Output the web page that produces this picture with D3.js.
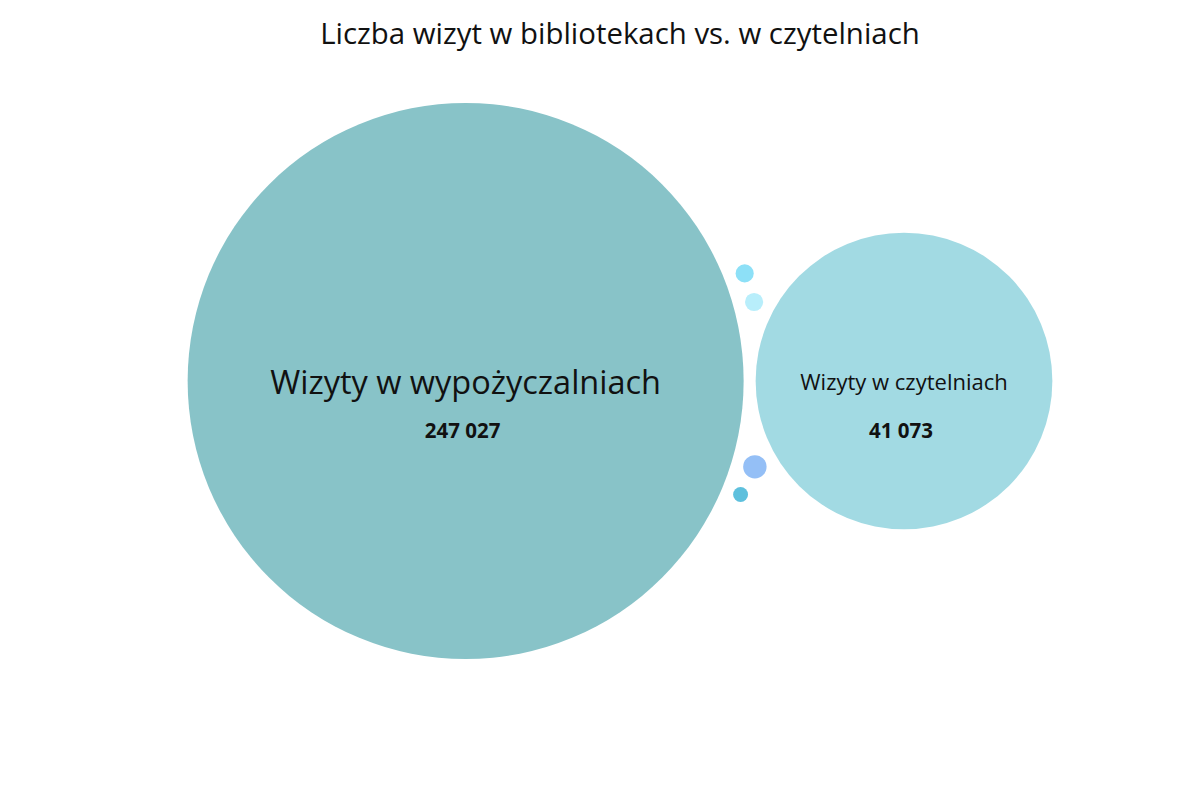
<!DOCTYPE html>
<html>
<head>
<meta charset="utf-8">
<script src="https://cdn.jsdelivr.net/npm/d3@7/dist/d3.min.js"></script>
<style>
  html, body { margin: 0; padding: 0; background: #ffffff; }
  svg { display: block; font-family: "Open Sans", "Noto Sans", sans-serif; }
</style>
</head>
<body>
<svg id="chart" width="1200" height="800"></svg>
<script>
// ---- data ----
const titleText = "Liczba wizyt w bibliotekach vs. w czytelniach";
const names  = ["Wizyty w wypożyczalniach", "Wizyty w czytelniach", "", "", "", ""];
const values = [247027, 41073, 14, 14, 29, 8];
const colors = ["#88c3c8", "#a2dae3", "#8de0f7", "#b8eefb", "#94bff6", "#5ec0dd"];
// packing: each small bubble is placed touching two earlier bubbles (index pair, side)
const anchorA = [null, null, 0, 0, 0, 0];
const anchorB = [null, null, 3, 1, 1, 4];
const side    = [null, null, -1, -1, 1, 1];
// ---------------

const W = 1200, H = 800;
const svg = d3.select("#chart");
const fmt = d3.formatLocale({ decimal: ",", thousands: "\u00a0", grouping: [3], currency: ["", " zł"] }).format(",d");

svg.append("text")
  .attr("x", 620).attr("y", 44)
  .attr("text-anchor", "middle")
  .attr("font-size", 29.4)
  .attr("fill", "#111")
  .text(titleText);

const r = d3.scalePow().exponent(0.35).domain([0, d3.max(values)]).range([0, 278]);
const pad = 12;

const nodes = values.map((v, i) => ({ i, name: names[i], value: v, color: colors[i], r: r(v) }));

// place first two side by side with padding
nodes[0].x = 0; nodes[0].y = 0;
nodes[1].x = nodes[0].r + pad + nodes[1].r; nodes[1].y = 0;

function placeTangent(a, b, c, s) {
  const da = a.r + c.r + pad, db = b.r + c.r + pad;
  const dx = b.x - a.x, dy = b.y - a.y;
  const d = Math.hypot(dx, dy);
  const t = (da * da - db * db + d * d) / (2 * d);
  const h = Math.sqrt(Math.max(0, da * da - t * t));
  const ux = dx / d, uy = dy / d;
  c.x = a.x + ux * t - uy * h * s * Math.sign(ux || 1);
  c.y = a.y + uy * t + ux * h * s * Math.sign(ux || 1);
}
// order: 3 and 4 first (touch both large), then 2 and 5
[3, 4, 2, 5].forEach(k => {
  placeTangent(nodes[anchorA[k]], nodes[anchorB[k]], nodes[k], side[k]);
});

// centre the pack horizontally on its extent, vertically at 381
const minX = d3.min(nodes, d => d.x - d.r), maxX = d3.max(nodes, d => d.x + d.r);
const offX = 620 - (minX + maxX) / 2, offY = 381;
nodes.forEach(d => { d.x += offX; d.y += offY; });

const g = svg.append("g");
g.selectAll("circle").data(nodes).join("circle")
  .attr("cx", d => d.x).attr("cy", d => d.y).attr("r", d => d.r)
  .attr("fill", d => d.color);

const labelled = nodes.filter(d => d.name);
const nameSize = d3.scaleLinear().domain([r(values[1]), r(values[0])]).range([22, 32.5]);

g.selectAll("text.name").data(labelled).join("text")
  .attr("class", "name")
  .attr("x", d => d.x)
  .attr("y", d => d.y + nameSize(d.r) * 0.35 + 1.5)
  .attr("text-anchor", "middle")
  .attr("font-size", d => nameSize(d.r))
  .attr("fill", "#111")
  .text(d => d.name);

g.selectAll("text.val").data(labelled).join("text")
  .attr("class", "val")
  .attr("x", d => d.x)
  .attr("dx", -3)
  .attr("y", d => d.y + 56.5)
  .attr("text-anchor", "middle")
  .attr("font-size", 20.5)
  .attr("font-weight", "bold")
  .attr("fill", "#111")
  .text(d => fmt(d.value));
</script>
</body>
</html>
